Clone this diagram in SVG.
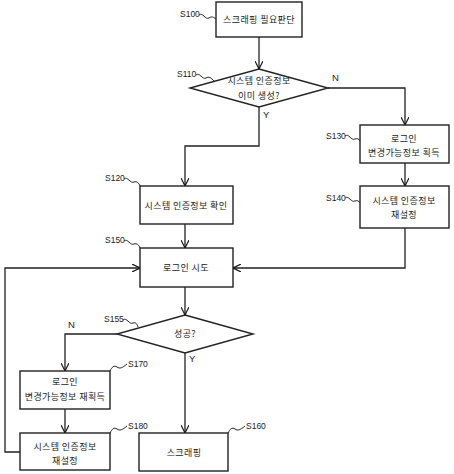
<svg xmlns="http://www.w3.org/2000/svg" width="454" height="474" viewBox="0 0 454 474">
<defs>
<marker id="arr" viewBox="0 0 10 10" refX="10" refY="5" markerWidth="8" markerHeight="8" markerUnits="userSpaceOnUse" orient="auto">
<path d="M0,0 L10,5 L0,10" fill="none" stroke="#111" stroke-width="1.4"/>
</marker>
<style>
.b{fill:#fff;stroke:#222;stroke-width:1.4}
.c{fill:none;stroke:#222;stroke-width:1.3}
.w{fill:none;stroke:#222;stroke-width:1}
.t{font-family:"Noto Sans CJK KR","Liberation Sans",sans-serif;font-size:9px;fill:#222;text-anchor:middle;letter-spacing:0.4px}
.l{font-family:"Liberation Sans",sans-serif;font-size:8.5px;fill:#222}
.yn{font-family:"Liberation Sans",sans-serif;font-size:9.5px;fill:#222}
</style>
</defs>
<g id="connectors">
<path class="c" d="M259,37 V69" marker-end="url(#arr)"/>
<path class="c" d="M328,88 H405 V125" marker-end="url(#arr)"/>
<path class="c" d="M259,107 V146 H185 V186" marker-end="url(#arr)"/>
<path class="c" d="M405,163 V186" marker-end="url(#arr)"/>
<path class="c" d="M405,228 V268 H233" marker-end="url(#arr)"/>
<path class="c" d="M185,224 V248" marker-end="url(#arr)"/>
<path class="c" d="M185,287 V315" marker-end="url(#arr)"/>
<path class="c" d="M117,334 H65 V371" marker-end="url(#arr)"/>
<path class="c" d="M185,353 V433" marker-end="url(#arr)"/>
<path class="c" d="M65,409 V433" marker-end="url(#arr)"/>
<path class="c" d="M20,452 H5 V268 H140" marker-end="url(#arr)"/>
<text class="yn" x="332" y="81">N</text>
<text class="yn" x="263" y="118">Y</text>
<text class="yn" x="68" y="328">N</text>
<text class="yn" x="189" y="362">Y</text>
</g>
<g id="S100">
<rect class="b" x="216" y="2" width="86" height="35"/>
<text class="t" x="259" y="23">스크래핑 필요판단</text>
<text class="l" x="180" y="17">S100</text>
<path class="w" d="M199,15 c4,-3 6,5 10,3 c3,-2 4,-1 7,1"/>
</g>
<g id="S110">
<polygon class="b" points="259,69 328,88 259,107 190,88"/>
<text class="t" x="259" y="84">시스템 인증정보</text>
<text class="t" x="259" y="99">이미 생성?</text>
<text class="l" x="177" y="77">S110</text>
<path class="w" d="M196,75 c4,-3 6,5 10,3 c3,-2 5,0 8,3"/>
</g>
<g id="S130">
<rect class="b" x="360" y="125" width="89" height="38"/>
<text class="t" x="404" y="142">로그인</text>
<text class="t" x="404" y="156">변경가능정보 획득</text>
<text class="l" x="326" y="139">S130</text>
<path class="w" d="M345,136 c4,-3 6,5 10,3 c2,-1 4,0 5,2"/>
</g>
<g id="S140">
<rect class="b" x="360" y="186" width="89" height="42"/>
<text class="t" x="404" y="204">시스템 인증정보</text>
<text class="t" x="404" y="218">재설정</text>
<text class="l" x="326" y="201">S140</text>
<path class="w" d="M345,198 c4,-3 6,5 10,3 c2,-1 4,0 5,2"/>
</g>
<g id="S120">
<rect class="b" x="140" y="186" width="93" height="38"/>
<text class="t" x="186" y="209">시스템 인증정보 확인</text>
<text class="l" x="105" y="181">S120</text>
<path class="w" d="M124,179 c4,-3 6,5 10,3 c3,-1 5,1 6,4"/>
</g>
<g id="S150">
<rect class="b" x="140" y="248" width="93" height="39"/>
<text class="t" x="186" y="271">로그인 시도</text>
<text class="l" x="105" y="243">S150</text>
<path class="w" d="M124,241 c4,-3 6,5 10,3 c3,-1 5,1 6,4"/>
</g>
<g id="S155">
<polygon class="b" points="185,315 253,334 185,353 117,334"/>
<text class="t" x="185" y="337">성공?</text>
<text class="l" x="104" y="322">S155</text>
<path class="w" d="M123,320 c4,-3 6,5 10,3 c3,-1 4,1 5,4"/>
</g>
<g id="S170">
<rect class="b" x="20" y="371" width="90" height="38"/>
<text class="t" x="65" y="385">로그인</text>
<text class="t" x="65" y="400">변경가능정보 재획득</text>
<text class="l" x="128" y="367">S170</text>
<path class="w" d="M110,371 c2,-4 4,-6 7,-4 c3,2 5,1 10,-3"/>
</g>
<g id="S180">
<rect class="b" x="20" y="433" width="90" height="37"/>
<text class="t" x="65" y="450">시스템 인증정보</text>
<text class="t" x="65" y="464">재설정</text>
<text class="l" x="128" y="429">S180</text>
<path class="w" d="M110,433 c2,-4 4,-6 7,-4 c3,2 5,1 10,-3"/>
</g>
<g id="S160">
<rect class="b" x="139" y="433" width="89" height="38"/>
<text class="t" x="184" y="456">스크래핑</text>
<text class="l" x="246" y="429">S160</text>
<path class="w" d="M228,433 c2,-4 4,-6 7,-4 c3,2 5,1 10,-3"/>
</g>
</svg>
